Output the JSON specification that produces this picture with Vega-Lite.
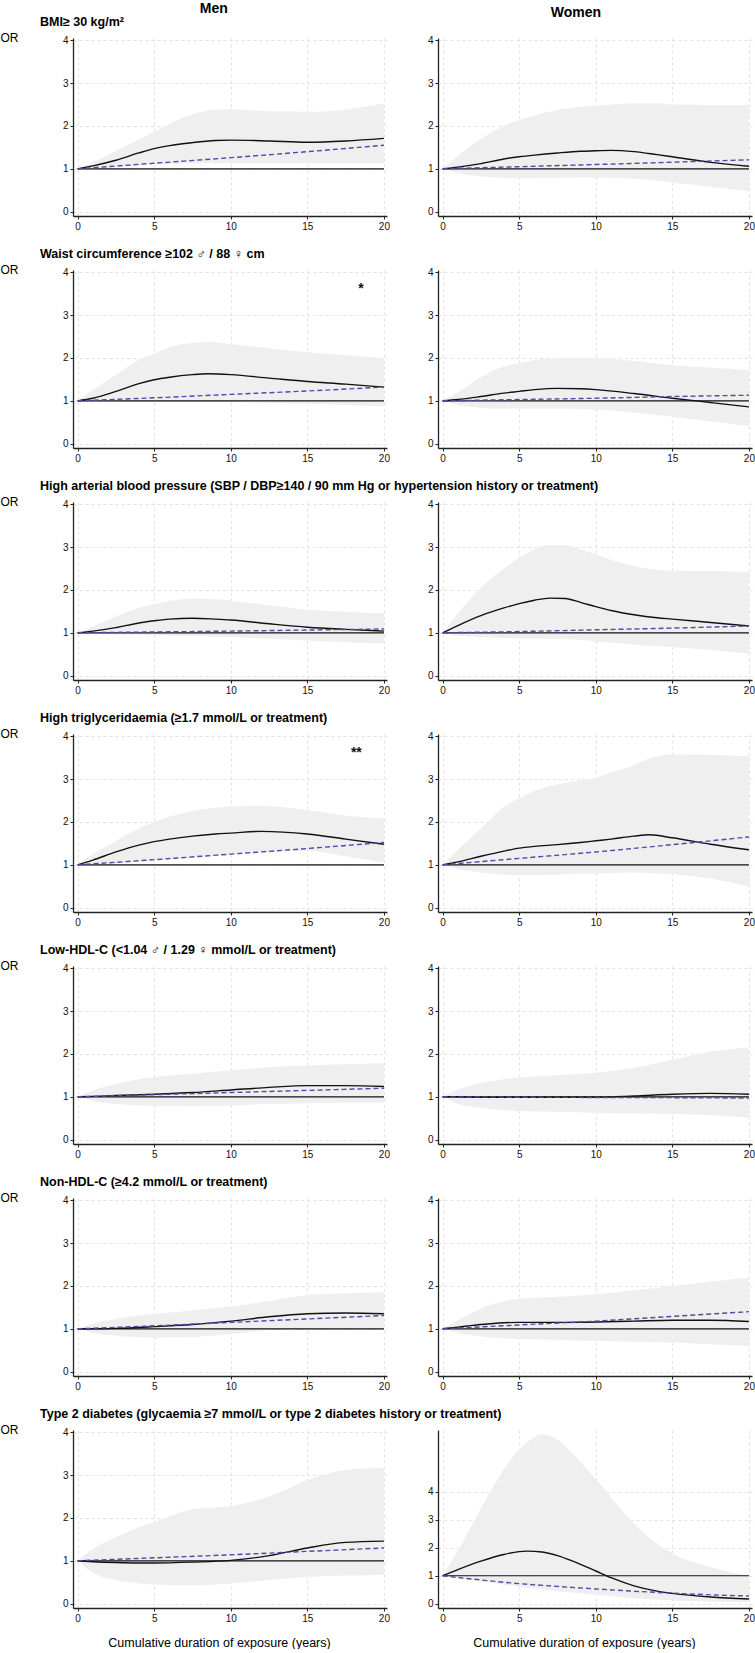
{
"$schema": "https://vega.github.io/schema/vega-lite/v6.json",
"padding": {"top": 1, "left": 0, "right": 0, "bottom": 0},
"background": "white",
"data": {"name": "curves"},
"datasets": {"curves": [
{"p":"bmi_m","x":0,"lo":1,"hi":1,"est":1,"lin":1},
{"p":"bmi_m","x":1,"lo":1.0,"hi":1.15,"est":1.07},
{"p":"bmi_m","x":2.5,"lo":1.03,"hi":1.42,"est":1.2},
{"p":"bmi_m","x":4,"lo":1.08,"hi":1.68,"est":1.37},
{"p":"bmi_m","x":5,"lo":1.11,"hi":1.86,"est":1.47,"lin":1.13},
{"p":"bmi_m","x":6,"lo":1.12,"hi":2.05,"est":1.54},
{"p":"bmi_m","x":7.5,"lo":1.13,"hi":2.28,"est":1.61},
{"p":"bmi_m","x":9,"lo":1.13,"hi":2.38,"est":1.66},
{"p":"bmi_m","x":10,"lo":1.13,"hi":2.39,"est":1.67,"lin":1.26},
{"p":"bmi_m","x":12.5,"lo":1.13,"hi":2.34,"est":1.65},
{"p":"bmi_m","x":15,"lo":1.13,"hi":2.33,"est":1.62,"lin":1.4},
{"p":"bmi_m","x":17.5,"lo":1.13,"hi":2.38,"est":1.65},
{"p":"bmi_m","x":20,"lo":1.13,"hi":2.52,"est":1.71,"lin":1.55},
{"p":"bmi_w","x":0,"lo":1,"hi":1,"est":1,"lin":1},
{"p":"bmi_w","x":1,"lo":0.9,"hi":1.3,"est":1.04},
{"p":"bmi_w","x":2.5,"lo":0.82,"hi":1.7,"est":1.12},
{"p":"bmi_w","x":4,"lo":0.79,"hi":2.0,"est":1.23},
{"p":"bmi_w","x":5,"lo":0.78,"hi":2.14,"est":1.28,"lin":1.05},
{"p":"bmi_w","x":6,"lo":0.78,"hi":2.24,"est":1.32},
{"p":"bmi_w","x":7.5,"lo":0.79,"hi":2.37,"est":1.37},
{"p":"bmi_w","x":9,"lo":0.8,"hi":2.44,"est":1.41},
{"p":"bmi_w","x":10,"lo":0.8,"hi":2.47,"est":1.42,"lin":1.1},
{"p":"bmi_w","x":11,"lo":0.79,"hi":2.5,"est":1.43},
{"p":"bmi_w","x":12.5,"lo":0.77,"hi":2.52,"est":1.4},
{"p":"bmi_w","x":14,"lo":0.72,"hi":2.52,"est":1.33},
{"p":"bmi_w","x":15,"lo":0.68,"hi":2.5,"est":1.28,"lin":1.155},
{"p":"bmi_w","x":17.5,"lo":0.58,"hi":2.49,"est":1.15},
{"p":"bmi_w","x":20,"lo":0.47,"hi":2.49,"est":1.06,"lin":1.21},
{"p":"waist_m","x":0,"lo":1,"hi":1,"est":1,"lin":1},
{"p":"waist_m","x":1,"lo":0.99,"hi":1.25,"est":1.06},
{"p":"waist_m","x":2.5,"lo":0.99,"hi":1.6,"est":1.22},
{"p":"waist_m","x":4,"lo":0.99,"hi":1.95,"est":1.4},
{"p":"waist_m","x":5,"lo":0.99,"hi":2.1,"est":1.49,"lin":1.07},
{"p":"waist_m","x":6,"lo":0.99,"hi":2.25,"est":1.55},
{"p":"waist_m","x":7.5,"lo":0.98,"hi":2.35,"est":1.61},
{"p":"waist_m","x":8.5,"lo":0.98,"hi":2.37,"est":1.63},
{"p":"waist_m","x":10,"lo":0.97,"hi":2.32,"est":1.61,"lin":1.15},
{"p":"waist_m","x":12.5,"lo":0.95,"hi":2.22,"est":1.53},
{"p":"waist_m","x":15,"lo":0.93,"hi":2.13,"est":1.45,"lin":1.23},
{"p":"waist_m","x":17.5,"lo":0.9,"hi":2.06,"est":1.39},
{"p":"waist_m","x":20,"lo":0.87,"hi":2.0,"est":1.32,"lin":1.32},
{"p":"waist_w","x":0,"lo":1,"hi":1,"est":1,"lin":1},
{"p":"waist_w","x":1,"lo":0.9,"hi":1.2,"est":1.03},
{"p":"waist_w","x":2.5,"lo":0.84,"hi":1.55,"est":1.1},
{"p":"waist_w","x":4,"lo":0.82,"hi":1.8,"est":1.18},
{"p":"waist_w","x":5,"lo":0.82,"hi":1.88,"est":1.22,"lin":1.03},
{"p":"waist_w","x":6,"lo":0.82,"hi":1.95,"est":1.26},
{"p":"waist_w","x":7.5,"lo":0.82,"hi":2.0,"est":1.29},
{"p":"waist_w","x":9,"lo":0.81,"hi":2.01,"est":1.28},
{"p":"waist_w","x":10,"lo":0.8,"hi":2.0,"est":1.26,"lin":1.06},
{"p":"waist_w","x":12.5,"lo":0.73,"hi":1.93,"est":1.17},
{"p":"waist_w","x":15,"lo":0.63,"hi":1.83,"est":1.06,"lin":1.1},
{"p":"waist_w","x":17.5,"lo":0.52,"hi":1.77,"est":0.96},
{"p":"waist_w","x":20,"lo":0.41,"hi":1.72,"est":0.86,"lin":1.13},
{"p":"bp_m","x":0,"lo":1,"hi":1,"est":1,"lin":1},
{"p":"bp_m","x":1,"lo":0.98,"hi":1.15,"est":1.04},
{"p":"bp_m","x":2.5,"lo":0.96,"hi":1.38,"est":1.12},
{"p":"bp_m","x":4,"lo":0.955,"hi":1.58,"est":1.23},
{"p":"bp_m","x":5,"lo":0.95,"hi":1.67,"est":1.28,"lin":1.02},
{"p":"bp_m","x":6,"lo":0.94,"hi":1.74,"est":1.32},
{"p":"bp_m","x":7.5,"lo":0.93,"hi":1.8,"est":1.34},
{"p":"bp_m","x":9,"lo":0.91,"hi":1.78,"est":1.32},
{"p":"bp_m","x":10,"lo":0.9,"hi":1.75,"est":1.3,"lin":1.04},
{"p":"bp_m","x":12.5,"lo":0.86,"hi":1.64,"est":1.21},
{"p":"bp_m","x":15,"lo":0.82,"hi":1.54,"est":1.13,"lin":1.065},
{"p":"bp_m","x":17.5,"lo":0.78,"hi":1.49,"est":1.08},
{"p":"bp_m","x":20,"lo":0.75,"hi":1.45,"est":1.04,"lin":1.09},
{"p":"bp_w","x":0,"lo":1,"hi":1,"est":1,"lin":1},
{"p":"bp_w","x":1,"lo":0.93,"hi":1.45,"est":1.17},
{"p":"bp_w","x":2.5,"lo":0.9,"hi":2.05,"est":1.4},
{"p":"bp_w","x":4,"lo":0.88,"hi":2.5,"est":1.58},
{"p":"bp_w","x":5,"lo":0.87,"hi":2.75,"est":1.68,"lin":1.03},
{"p":"bp_w","x":6,"lo":0.86,"hi":2.95,"est":1.76},
{"p":"bp_w","x":7,"lo":0.855,"hi":3.05,"est":1.81},
{"p":"bp_w","x":8,"lo":0.85,"hi":3.04,"est":1.8},
{"p":"bp_w","x":9,"lo":0.83,"hi":2.95,"est":1.71},
{"p":"bp_w","x":10,"lo":0.8,"hi":2.83,"est":1.61,"lin":1.07},
{"p":"bp_w","x":11,"lo":0.77,"hi":2.7,"est":1.52},
{"p":"bp_w","x":12.5,"lo":0.73,"hi":2.56,"est":1.42},
{"p":"bp_w","x":14,"lo":0.69,"hi":2.47,"est":1.35},
{"p":"bp_w","x":15,"lo":0.67,"hi":2.45,"est":1.32,"lin":1.11},
{"p":"bp_w","x":17.5,"lo":0.6,"hi":2.44,"est":1.24},
{"p":"bp_w","x":20,"lo":0.52,"hi":2.42,"est":1.16,"lin":1.16},
{"p":"tg_m","x":0,"lo":1,"hi":1,"est":1,"lin":1},
{"p":"tg_m","x":1,"lo":1.0,"hi":1.25,"est":1.11},
{"p":"tg_m","x":2.5,"lo":1.03,"hi":1.55,"est":1.3},
{"p":"tg_m","x":4,"lo":1.07,"hi":1.85,"est":1.46},
{"p":"tg_m","x":5,"lo":1.1,"hi":2.0,"est":1.54,"lin":1.12},
{"p":"tg_m","x":6,"lo":1.13,"hi":2.12,"est":1.6},
{"p":"tg_m","x":7.5,"lo":1.17,"hi":2.25,"est":1.67},
{"p":"tg_m","x":9,"lo":1.21,"hi":2.33,"est":1.72},
{"p":"tg_m","x":10,"lo":1.24,"hi":2.36,"est":1.74,"lin":1.25},
{"p":"tg_m","x":12,"lo":1.29,"hi":2.38,"est":1.78},
{"p":"tg_m","x":15,"lo":1.32,"hi":2.28,"est":1.72,"lin":1.38},
{"p":"tg_m","x":17.5,"lo":1.2,"hi":2.15,"est":1.6},
{"p":"tg_m","x":20,"lo":1.05,"hi":2.08,"est":1.48,"lin":1.52},
{"p":"tg_w","x":0,"lo":1,"hi":1,"est":1,"lin":1},
{"p":"tg_w","x":1,"lo":0.9,"hi":1.35,"est":1.07},
{"p":"tg_w","x":2.5,"lo":0.82,"hi":1.85,"est":1.2},
{"p":"tg_w","x":4,"lo":0.77,"hi":2.35,"est":1.32},
{"p":"tg_w","x":5,"lo":0.76,"hi":2.56,"est":1.39,"lin":1.15},
{"p":"tg_w","x":6,"lo":0.76,"hi":2.72,"est":1.43},
{"p":"tg_w","x":7.5,"lo":0.77,"hi":2.87,"est":1.47},
{"p":"tg_w","x":9,"lo":0.79,"hi":2.97,"est":1.52},
{"p":"tg_w","x":10,"lo":0.8,"hi":3.03,"est":1.56,"lin":1.3},
{"p":"tg_w","x":11,"lo":0.81,"hi":3.15,"est":1.6},
{"p":"tg_w","x":12.5,"lo":0.82,"hi":3.32,"est":1.67},
{"p":"tg_w","x":13.5,"lo":0.81,"hi":3.48,"est":1.7},
{"p":"tg_w","x":15,"lo":0.78,"hi":3.57,"est":1.63,"lin":1.47},
{"p":"tg_w","x":17.5,"lo":0.68,"hi":3.56,"est":1.48},
{"p":"tg_w","x":20,"lo":0.49,"hi":3.53,"est":1.35,"lin":1.65},
{"p":"hdl_m","x":0,"lo":1,"hi":1,"est":1,"lin":1},
{"p":"hdl_m","x":1,"lo":0.9,"hi":1.15,"est":1.01},
{"p":"hdl_m","x":2.5,"lo":0.83,"hi":1.3,"est":1.03},
{"p":"hdl_m","x":5,"lo":0.79,"hi":1.46,"est":1.06,"lin":1.05},
{"p":"hdl_m","x":7.5,"lo":0.78,"hi":1.54,"est":1.1},
{"p":"hdl_m","x":10,"lo":0.8,"hi":1.62,"est":1.16,"lin":1.1},
{"p":"hdl_m","x":12.5,"lo":0.83,"hi":1.69,"est":1.22},
{"p":"hdl_m","x":15,"lo":0.85,"hi":1.73,"est":1.26,"lin":1.15},
{"p":"hdl_m","x":17.5,"lo":0.86,"hi":1.76,"est":1.26},
{"p":"hdl_m","x":20,"lo":0.86,"hi":1.78,"est":1.24,"lin":1.2},
{"p":"hdl_w","x":0,"lo":1,"hi":1,"est":1,"lin":1},
{"p":"hdl_w","x":1,"lo":0.83,"hi":1.17,"est":1.0},
{"p":"hdl_w","x":2.5,"lo":0.74,"hi":1.32,"est":0.99},
{"p":"hdl_w","x":5,"lo":0.67,"hi":1.45,"est":0.99,"lin":0.99},
{"p":"hdl_w","x":7.5,"lo":0.65,"hi":1.5,"est":0.99},
{"p":"hdl_w","x":10,"lo":0.63,"hi":1.56,"est":0.99,"lin":0.985},
{"p":"hdl_w","x":12.5,"lo":0.61,"hi":1.68,"est":1.02},
{"p":"hdl_w","x":15,"lo":0.6,"hi":1.86,"est":1.06,"lin":0.98},
{"p":"hdl_w","x":17.5,"lo":0.57,"hi":2.05,"est":1.08},
{"p":"hdl_w","x":20,"lo":0.52,"hi":2.15,"est":1.06,"lin":0.97},
{"p":"nhdl_m","x":0,"lo":1,"hi":1,"est":1,"lin":1},
{"p":"nhdl_m","x":1,"lo":0.9,"hi":1.12,"est":1.0},
{"p":"nhdl_m","x":2.5,"lo":0.84,"hi":1.23,"est":1.01},
{"p":"nhdl_m","x":5,"lo":0.8,"hi":1.35,"est":1.05,"lin":1.07},
{"p":"nhdl_m","x":7.5,"lo":0.81,"hi":1.43,"est":1.1},
{"p":"nhdl_m","x":10,"lo":0.88,"hi":1.52,"est":1.18,"lin":1.15},
{"p":"nhdl_m","x":12.5,"lo":0.97,"hi":1.65,"est":1.28},
{"p":"nhdl_m","x":15,"lo":1.0,"hi":1.78,"est":1.35,"lin":1.23},
{"p":"nhdl_m","x":17.5,"lo":1.0,"hi":1.83,"est":1.37},
{"p":"nhdl_m","x":20,"lo":1.0,"hi":1.85,"est":1.35,"lin":1.31},
{"p":"nhdl_w","x":0,"lo":1,"hi":1,"est":1,"lin":1},
{"p":"nhdl_w","x":1,"lo":0.9,"hi":1.2,"est":1.04},
{"p":"nhdl_w","x":2.5,"lo":0.82,"hi":1.47,"est":1.1},
{"p":"nhdl_w","x":4,"lo":0.78,"hi":1.64,"est":1.14},
{"p":"nhdl_w","x":5,"lo":0.76,"hi":1.7,"est":1.15,"lin":1.09},
{"p":"nhdl_w","x":7.5,"lo":0.74,"hi":1.75,"est":1.15},
{"p":"nhdl_w","x":10,"lo":0.72,"hi":1.8,"est":1.16,"lin":1.18},
{"p":"nhdl_w","x":12.5,"lo":0.7,"hi":1.9,"est":1.18},
{"p":"nhdl_w","x":15,"lo":0.68,"hi":2.0,"est":1.2,"lin":1.29},
{"p":"nhdl_w","x":17.5,"lo":0.64,"hi":2.1,"est":1.2},
{"p":"nhdl_w","x":20,"lo":0.6,"hi":2.2,"est":1.17,"lin":1.4},
{"p":"dm_m","x":0,"lo":1,"hi":1,"est":1,"lin":1},
{"p":"dm_m","x":1,"lo":0.72,"hi":1.28,"est":0.98},
{"p":"dm_m","x":2.5,"lo":0.55,"hi":1.55,"est":0.96},
{"p":"dm_m","x":4,"lo":0.47,"hi":1.78,"est":0.95},
{"p":"dm_m","x":5,"lo":0.45,"hi":1.9,"est":0.95,"lin":1.07},
{"p":"dm_m","x":7.5,"lo":0.43,"hi":2.2,"est":0.97},
{"p":"dm_m","x":10,"lo":0.47,"hi":2.28,"est":1.01,"lin":1.14},
{"p":"dm_m","x":12.5,"lo":0.55,"hi":2.5,"est":1.12},
{"p":"dm_m","x":15,"lo":0.63,"hi":2.88,"est":1.3,"lin":1.22},
{"p":"dm_m","x":17.5,"lo":0.66,"hi":3.12,"est":1.43},
{"p":"dm_m","x":20,"lo":0.67,"hi":3.17,"est":1.46,"lin":1.3},
{"p":"dm_w","x":0,"lo":1,"hi":1,"est":1,"lin":1},
{"p":"dm_w","x":1,"lo":0.9,"hi":1.9,"est":1.22},
{"p":"dm_w","x":2.5,"lo":0.8,"hi":3.4,"est":1.52,"lin":0.85},
{"p":"dm_w","x":4,"lo":0.68,"hi":4.8,"est":1.76},
{"p":"dm_w","x":5,"lo":0.6,"hi":5.5,"est":1.86,"lin":0.72},
{"p":"dm_w","x":5.5,"lo":0.57,"hi":5.75,"est":1.88},
{"p":"dm_w","x":6.5,"lo":0.51,"hi":6.05,"est":1.85},
{"p":"dm_w","x":7.5,"lo":0.45,"hi":5.85,"est":1.72,"lin":0.62},
{"p":"dm_w","x":8.5,"lo":0.4,"hi":5.35,"est":1.52},
{"p":"dm_w","x":10,"lo":0.32,"hi":4.45,"est":1.17,"lin":0.53},
{"p":"dm_w","x":11,"lo":0.27,"hi":3.8,"est":0.93},
{"p":"dm_w","x":12.5,"lo":0.2,"hi":2.85,"est":0.64,"lin":0.45},
{"p":"dm_w","x":14,"lo":0.15,"hi":2.15,"est":0.45},
{"p":"dm_w","x":15,"lo":0.12,"hi":1.8,"est":0.37,"lin":0.38},
{"p":"dm_w","x":17.5,"lo":0.08,"hi":1.3,"est":0.24,"lin":0.32},
{"p":"dm_w","x":20,"lo":0.06,"hi":1.0,"est":0.17,"lin":0.28}
]},
"spacing": 16,
"vconcat": [
{"spacing": 37, "hconcat": [
 {"title": {"text": "Men", "fontSize": 14, "anchor": "middle", "frame": "bounds", "dx": 19, "offset": 0},
  "vconcat": [
  {"width":314,"height":178,
   "title": {"text": "BMI≥ 30 kg/m²", "anchor": "start", "frame": "group", "dx": -33, "offset": 3},
   "transform":[{"filter":"datum.p==='bmi_m'"}],
   "encoding":{"x":{"field":"x","type":"quantitative","scale":{"domain":[-0.3,20.2],"nice":false,"zero":false},"axis":{"values":[0,5,10,15,20],"title":null}}},
   "layer":[
    {"mark":{"type":"area","color":"#efefef","interpolate":"monotone"},"encoding":{"y":{"field":"hi","type":"quantitative","scale":{"domain":[-0.1,4.05],"nice":false,"zero":false},"axis":{"values":[0,1,2,3,4],"title":"OR","titleAngle":0,"titleAlign":"left","titleBaseline":"middle","titleX":-73,"titleY":-1,"titleFontSize":12}},"y2":{"field":"lo"}}},
    {"mark":{"type":"line","color":"#111","strokeWidth":1.2},"encoding":{"y":{"datum":1,"type":"quantitative","scale":{"domain":[-0.1,4.05],"nice":false,"zero":false},"axis":{"values":[0,1,2,3,4],"title":"OR","titleAngle":0,"titleAlign":"left","titleBaseline":"middle","titleX":-73,"titleY":-1,"titleFontSize":12}}}},
    {"mark":{"type":"line","color":"#111","strokeWidth":1.4,"interpolate":"monotone"},"encoding":{"y":{"field":"est","type":"quantitative","scale":{"domain":[-0.1,4.05],"nice":false,"zero":false},"axis":{"values":[0,1,2,3,4],"title":"OR","titleAngle":0,"titleAlign":"left","titleBaseline":"middle","titleX":-73,"titleY":-1,"titleFontSize":12}}}},
    {"transform":[{"filter":"isValid(datum.lin)"}],"mark":{"type":"line","color":"#5a45a8","strokeWidth":1.4,"strokeDash":[5,3],"interpolate":"monotone"},"encoding":{"y":{"field":"lin","type":"quantitative","scale":{"domain":[-0.1,4.05],"nice":false,"zero":false},"axis":{"values":[0,1,2,3,4],"title":"OR","titleAngle":0,"titleAlign":"left","titleBaseline":"middle","titleX":-73,"titleY":-1,"titleFontSize":12}}}}
   ]}
 ]},
 {"title": {"text": "Women", "fontSize": 14, "anchor": "middle", "frame": "bounds", "dx": -15, "offset": 0},
  "vconcat": [
  {"width":314,"height":178,
   "title": {"text": " ", "anchor": "start", "frame": "group", "offset": 3},
   "transform":[{"filter":"datum.p==='bmi_w'"}],
   "encoding":{"x":{"field":"x","type":"quantitative","scale":{"domain":[-0.3,20.2],"nice":false,"zero":false},"axis":{"values":[0,5,10,15,20],"title":null}}},
   "layer":[
    {"mark":{"type":"area","color":"#efefef","interpolate":"monotone"},"encoding":{"y":{"field":"hi","type":"quantitative","scale":{"domain":[-0.1,4.05],"nice":false,"zero":false},"axis":{"values":[0,1,2,3,4],"title":null}},"y2":{"field":"lo"}}},
    {"mark":{"type":"line","color":"#111","strokeWidth":1.2},"encoding":{"y":{"datum":1,"type":"quantitative","scale":{"domain":[-0.1,4.05],"nice":false,"zero":false},"axis":{"values":[0,1,2,3,4],"title":null}}}},
    {"mark":{"type":"line","color":"#111","strokeWidth":1.4,"interpolate":"monotone"},"encoding":{"y":{"field":"est","type":"quantitative","scale":{"domain":[-0.1,4.05],"nice":false,"zero":false},"axis":{"values":[0,1,2,3,4],"title":null}}}},
    {"transform":[{"filter":"isValid(datum.lin)"}],"mark":{"type":"line","color":"#5a45a8","strokeWidth":1.4,"strokeDash":[5,3],"interpolate":"monotone"},"encoding":{"y":{"field":"lin","type":"quantitative","scale":{"domain":[-0.1,4.05],"nice":false,"zero":false},"axis":{"values":[0,1,2,3,4],"title":null}}}}
   ]}
 ]}
]},
{"spacing": 37,
 "title": {"text": "Waist circumference ≥102 ♂ / 88 ♀ cm", "anchor": "start", "frame": "bounds", "dx": 40, "offset": 3},
 "hconcat": [
  {"width":314,"height":178,
   "transform":[{"filter":"datum.p==='waist_m'"}],
   "encoding":{"x":{"field":"x","type":"quantitative","scale":{"domain":[-0.3,20.2],"nice":false,"zero":false},"axis":{"values":[0,5,10,15,20],"title":null}}},
   "layer":[
    {"mark":{"type":"area","color":"#efefef","interpolate":"monotone"},"encoding":{"y":{"field":"hi","type":"quantitative","scale":{"domain":[-0.1,4.05],"nice":false,"zero":false},"axis":{"values":[0,1,2,3,4],"title":"OR","titleAngle":0,"titleAlign":"left","titleBaseline":"middle","titleX":-73,"titleY":-1,"titleFontSize":12}},"y2":{"field":"lo"}}},
    {"mark":{"type":"line","color":"#111","strokeWidth":1.2},"encoding":{"y":{"datum":1,"type":"quantitative","scale":{"domain":[-0.1,4.05],"nice":false,"zero":false},"axis":{"values":[0,1,2,3,4],"title":"OR","titleAngle":0,"titleAlign":"left","titleBaseline":"middle","titleX":-73,"titleY":-1,"titleFontSize":12}}}},
    {"mark":{"type":"line","color":"#111","strokeWidth":1.4,"interpolate":"monotone"},"encoding":{"y":{"field":"est","type":"quantitative","scale":{"domain":[-0.1,4.05],"nice":false,"zero":false},"axis":{"values":[0,1,2,3,4],"title":"OR","titleAngle":0,"titleAlign":"left","titleBaseline":"middle","titleX":-73,"titleY":-1,"titleFontSize":12}}}},
    {"transform":[{"filter":"isValid(datum.lin)"}],"mark":{"type":"line","color":"#5a45a8","strokeWidth":1.4,"strokeDash":[5,3],"interpolate":"monotone"},"encoding":{"y":{"field":"lin","type":"quantitative","scale":{"domain":[-0.1,4.05],"nice":false,"zero":false},"axis":{"values":[0,1,2,3,4],"title":"OR","titleAngle":0,"titleAlign":"left","titleBaseline":"middle","titleX":-73,"titleY":-1,"titleFontSize":12}}}},
    {"data":{"values":[{"x":18.5,"y":3.6,"t":"*"}]},"mark":{"type":"text","fontSize":14,"fontWeight":"bold","color":"#111"},"encoding":{"y":{"field":"y","type":"quantitative","scale":{"domain":[-0.1,4.05],"nice":false,"zero":false},"axis":{"values":[0,1,2,3,4],"title":"OR","titleAngle":0,"titleAlign":"left","titleBaseline":"middle","titleX":-73,"titleY":-1,"titleFontSize":12}},"text":{"field":"t"}}}
   ]},
  {"width":314,"height":178,
   "transform":[{"filter":"datum.p==='waist_w'"}],
   "encoding":{"x":{"field":"x","type":"quantitative","scale":{"domain":[-0.3,20.2],"nice":false,"zero":false},"axis":{"values":[0,5,10,15,20],"title":null}}},
   "layer":[
    {"mark":{"type":"area","color":"#efefef","interpolate":"monotone"},"encoding":{"y":{"field":"hi","type":"quantitative","scale":{"domain":[-0.1,4.05],"nice":false,"zero":false},"axis":{"values":[0,1,2,3,4],"title":null}},"y2":{"field":"lo"}}},
    {"mark":{"type":"line","color":"#111","strokeWidth":1.2},"encoding":{"y":{"datum":1,"type":"quantitative","scale":{"domain":[-0.1,4.05],"nice":false,"zero":false},"axis":{"values":[0,1,2,3,4],"title":null}}}},
    {"mark":{"type":"line","color":"#111","strokeWidth":1.4,"interpolate":"monotone"},"encoding":{"y":{"field":"est","type":"quantitative","scale":{"domain":[-0.1,4.05],"nice":false,"zero":false},"axis":{"values":[0,1,2,3,4],"title":null}}}},
    {"transform":[{"filter":"isValid(datum.lin)"}],"mark":{"type":"line","color":"#5a45a8","strokeWidth":1.4,"strokeDash":[5,3],"interpolate":"monotone"},"encoding":{"y":{"field":"lin","type":"quantitative","scale":{"domain":[-0.1,4.05],"nice":false,"zero":false},"axis":{"values":[0,1,2,3,4],"title":null}}}}
   ]}
 ]},
{"spacing": 37,
 "title": {"text": "High arterial blood pressure (SBP / DBP≥140 / 90 mm Hg or hypertension history or treatment)", "anchor": "start", "frame": "bounds", "dx": 40, "offset": 3},
 "hconcat": [
  {"width":314,"height":178,
   "transform":[{"filter":"datum.p==='bp_m'"}],
   "encoding":{"x":{"field":"x","type":"quantitative","scale":{"domain":[-0.3,20.2],"nice":false,"zero":false},"axis":{"values":[0,5,10,15,20],"title":null}}},
   "layer":[
    {"mark":{"type":"area","color":"#efefef","interpolate":"monotone"},"encoding":{"y":{"field":"hi","type":"quantitative","scale":{"domain":[-0.1,4.05],"nice":false,"zero":false},"axis":{"values":[0,1,2,3,4],"title":"OR","titleAngle":0,"titleAlign":"left","titleBaseline":"middle","titleX":-73,"titleY":-1,"titleFontSize":12}},"y2":{"field":"lo"}}},
    {"mark":{"type":"line","color":"#111","strokeWidth":1.2},"encoding":{"y":{"datum":1,"type":"quantitative","scale":{"domain":[-0.1,4.05],"nice":false,"zero":false},"axis":{"values":[0,1,2,3,4],"title":"OR","titleAngle":0,"titleAlign":"left","titleBaseline":"middle","titleX":-73,"titleY":-1,"titleFontSize":12}}}},
    {"mark":{"type":"line","color":"#111","strokeWidth":1.4,"interpolate":"monotone"},"encoding":{"y":{"field":"est","type":"quantitative","scale":{"domain":[-0.1,4.05],"nice":false,"zero":false},"axis":{"values":[0,1,2,3,4],"title":"OR","titleAngle":0,"titleAlign":"left","titleBaseline":"middle","titleX":-73,"titleY":-1,"titleFontSize":12}}}},
    {"transform":[{"filter":"isValid(datum.lin)"}],"mark":{"type":"line","color":"#5a45a8","strokeWidth":1.4,"strokeDash":[5,3],"interpolate":"monotone"},"encoding":{"y":{"field":"lin","type":"quantitative","scale":{"domain":[-0.1,4.05],"nice":false,"zero":false},"axis":{"values":[0,1,2,3,4],"title":"OR","titleAngle":0,"titleAlign":"left","titleBaseline":"middle","titleX":-73,"titleY":-1,"titleFontSize":12}}}}
   ]},
  {"width":314,"height":178,
   "transform":[{"filter":"datum.p==='bp_w'"}],
   "encoding":{"x":{"field":"x","type":"quantitative","scale":{"domain":[-0.3,20.2],"nice":false,"zero":false},"axis":{"values":[0,5,10,15,20],"title":null}}},
   "layer":[
    {"mark":{"type":"area","color":"#efefef","interpolate":"monotone"},"encoding":{"y":{"field":"hi","type":"quantitative","scale":{"domain":[-0.1,4.05],"nice":false,"zero":false},"axis":{"values":[0,1,2,3,4],"title":null}},"y2":{"field":"lo"}}},
    {"mark":{"type":"line","color":"#111","strokeWidth":1.2},"encoding":{"y":{"datum":1,"type":"quantitative","scale":{"domain":[-0.1,4.05],"nice":false,"zero":false},"axis":{"values":[0,1,2,3,4],"title":null}}}},
    {"mark":{"type":"line","color":"#111","strokeWidth":1.4,"interpolate":"monotone"},"encoding":{"y":{"field":"est","type":"quantitative","scale":{"domain":[-0.1,4.05],"nice":false,"zero":false},"axis":{"values":[0,1,2,3,4],"title":null}}}},
    {"transform":[{"filter":"isValid(datum.lin)"}],"mark":{"type":"line","color":"#5a45a8","strokeWidth":1.4,"strokeDash":[5,3],"interpolate":"monotone"},"encoding":{"y":{"field":"lin","type":"quantitative","scale":{"domain":[-0.1,4.05],"nice":false,"zero":false},"axis":{"values":[0,1,2,3,4],"title":null}}}}
   ]}
 ]},
{"spacing": 37,
 "title": {"text": "High triglyceridaemia (≥1.7 mmol/L or treatment)", "anchor": "start", "frame": "bounds", "dx": 40, "offset": 3},
 "hconcat": [
  {"width":314,"height":178,
   "transform":[{"filter":"datum.p==='tg_m'"}],
   "encoding":{"x":{"field":"x","type":"quantitative","scale":{"domain":[-0.3,20.2],"nice":false,"zero":false},"axis":{"values":[0,5,10,15,20],"title":null}}},
   "layer":[
    {"mark":{"type":"area","color":"#efefef","interpolate":"monotone"},"encoding":{"y":{"field":"hi","type":"quantitative","scale":{"domain":[-0.1,4.05],"nice":false,"zero":false},"axis":{"values":[0,1,2,3,4],"title":"OR","titleAngle":0,"titleAlign":"left","titleBaseline":"middle","titleX":-73,"titleY":-1,"titleFontSize":12}},"y2":{"field":"lo"}}},
    {"mark":{"type":"line","color":"#111","strokeWidth":1.2},"encoding":{"y":{"datum":1,"type":"quantitative","scale":{"domain":[-0.1,4.05],"nice":false,"zero":false},"axis":{"values":[0,1,2,3,4],"title":"OR","titleAngle":0,"titleAlign":"left","titleBaseline":"middle","titleX":-73,"titleY":-1,"titleFontSize":12}}}},
    {"mark":{"type":"line","color":"#111","strokeWidth":1.4,"interpolate":"monotone"},"encoding":{"y":{"field":"est","type":"quantitative","scale":{"domain":[-0.1,4.05],"nice":false,"zero":false},"axis":{"values":[0,1,2,3,4],"title":"OR","titleAngle":0,"titleAlign":"left","titleBaseline":"middle","titleX":-73,"titleY":-1,"titleFontSize":12}}}},
    {"transform":[{"filter":"isValid(datum.lin)"}],"mark":{"type":"line","color":"#5a45a8","strokeWidth":1.4,"strokeDash":[5,3],"interpolate":"monotone"},"encoding":{"y":{"field":"lin","type":"quantitative","scale":{"domain":[-0.1,4.05],"nice":false,"zero":false},"axis":{"values":[0,1,2,3,4],"title":"OR","titleAngle":0,"titleAlign":"left","titleBaseline":"middle","titleX":-73,"titleY":-1,"titleFontSize":12}}}},
    {"data":{"values":[{"x":18.2,"y":3.6,"t":"**"}]},"mark":{"type":"text","fontSize":14,"fontWeight":"bold","color":"#111"},"encoding":{"y":{"field":"y","type":"quantitative","scale":{"domain":[-0.1,4.05],"nice":false,"zero":false},"axis":{"values":[0,1,2,3,4],"title":"OR","titleAngle":0,"titleAlign":"left","titleBaseline":"middle","titleX":-73,"titleY":-1,"titleFontSize":12}},"text":{"field":"t"}}}
   ]},
  {"width":314,"height":178,
   "transform":[{"filter":"datum.p==='tg_w'"}],
   "encoding":{"x":{"field":"x","type":"quantitative","scale":{"domain":[-0.3,20.2],"nice":false,"zero":false},"axis":{"values":[0,5,10,15,20],"title":null}}},
   "layer":[
    {"mark":{"type":"area","color":"#efefef","interpolate":"monotone"},"encoding":{"y":{"field":"hi","type":"quantitative","scale":{"domain":[-0.1,4.05],"nice":false,"zero":false},"axis":{"values":[0,1,2,3,4],"title":null}},"y2":{"field":"lo"}}},
    {"mark":{"type":"line","color":"#111","strokeWidth":1.2},"encoding":{"y":{"datum":1,"type":"quantitative","scale":{"domain":[-0.1,4.05],"nice":false,"zero":false},"axis":{"values":[0,1,2,3,4],"title":null}}}},
    {"mark":{"type":"line","color":"#111","strokeWidth":1.4,"interpolate":"monotone"},"encoding":{"y":{"field":"est","type":"quantitative","scale":{"domain":[-0.1,4.05],"nice":false,"zero":false},"axis":{"values":[0,1,2,3,4],"title":null}}}},
    {"transform":[{"filter":"isValid(datum.lin)"}],"mark":{"type":"line","color":"#5a45a8","strokeWidth":1.4,"strokeDash":[5,3],"interpolate":"monotone"},"encoding":{"y":{"field":"lin","type":"quantitative","scale":{"domain":[-0.1,4.05],"nice":false,"zero":false},"axis":{"values":[0,1,2,3,4],"title":null}}}}
   ]}
 ]},
{"spacing": 37,
 "title": {"text": "Low-HDL-C (<1.04 ♂ / 1.29 ♀ mmol/L or treatment)", "anchor": "start", "frame": "bounds", "dx": 40, "offset": 3},
 "hconcat": [
  {"width":314,"height":178,
   "transform":[{"filter":"datum.p==='hdl_m'"}],
   "encoding":{"x":{"field":"x","type":"quantitative","scale":{"domain":[-0.3,20.2],"nice":false,"zero":false},"axis":{"values":[0,5,10,15,20],"title":null}}},
   "layer":[
    {"mark":{"type":"area","color":"#efefef","interpolate":"monotone"},"encoding":{"y":{"field":"hi","type":"quantitative","scale":{"domain":[-0.1,4.05],"nice":false,"zero":false},"axis":{"values":[0,1,2,3,4],"title":"OR","titleAngle":0,"titleAlign":"left","titleBaseline":"middle","titleX":-73,"titleY":-1,"titleFontSize":12}},"y2":{"field":"lo"}}},
    {"mark":{"type":"line","color":"#111","strokeWidth":1.2},"encoding":{"y":{"datum":1,"type":"quantitative","scale":{"domain":[-0.1,4.05],"nice":false,"zero":false},"axis":{"values":[0,1,2,3,4],"title":"OR","titleAngle":0,"titleAlign":"left","titleBaseline":"middle","titleX":-73,"titleY":-1,"titleFontSize":12}}}},
    {"mark":{"type":"line","color":"#111","strokeWidth":1.4,"interpolate":"monotone"},"encoding":{"y":{"field":"est","type":"quantitative","scale":{"domain":[-0.1,4.05],"nice":false,"zero":false},"axis":{"values":[0,1,2,3,4],"title":"OR","titleAngle":0,"titleAlign":"left","titleBaseline":"middle","titleX":-73,"titleY":-1,"titleFontSize":12}}}},
    {"transform":[{"filter":"isValid(datum.lin)"}],"mark":{"type":"line","color":"#5a45a8","strokeWidth":1.4,"strokeDash":[5,3],"interpolate":"monotone"},"encoding":{"y":{"field":"lin","type":"quantitative","scale":{"domain":[-0.1,4.05],"nice":false,"zero":false},"axis":{"values":[0,1,2,3,4],"title":"OR","titleAngle":0,"titleAlign":"left","titleBaseline":"middle","titleX":-73,"titleY":-1,"titleFontSize":12}}}}
   ]},
  {"width":314,"height":178,
   "transform":[{"filter":"datum.p==='hdl_w'"}],
   "encoding":{"x":{"field":"x","type":"quantitative","scale":{"domain":[-0.3,20.2],"nice":false,"zero":false},"axis":{"values":[0,5,10,15,20],"title":null}}},
   "layer":[
    {"mark":{"type":"area","color":"#efefef","interpolate":"monotone"},"encoding":{"y":{"field":"hi","type":"quantitative","scale":{"domain":[-0.1,4.05],"nice":false,"zero":false},"axis":{"values":[0,1,2,3,4],"title":null}},"y2":{"field":"lo"}}},
    {"mark":{"type":"line","color":"#111","strokeWidth":1.2},"encoding":{"y":{"datum":1,"type":"quantitative","scale":{"domain":[-0.1,4.05],"nice":false,"zero":false},"axis":{"values":[0,1,2,3,4],"title":null}}}},
    {"mark":{"type":"line","color":"#111","strokeWidth":1.4,"interpolate":"monotone"},"encoding":{"y":{"field":"est","type":"quantitative","scale":{"domain":[-0.1,4.05],"nice":false,"zero":false},"axis":{"values":[0,1,2,3,4],"title":null}}}},
    {"transform":[{"filter":"isValid(datum.lin)"}],"mark":{"type":"line","color":"#5a45a8","strokeWidth":1.4,"strokeDash":[5,3],"interpolate":"monotone"},"encoding":{"y":{"field":"lin","type":"quantitative","scale":{"domain":[-0.1,4.05],"nice":false,"zero":false},"axis":{"values":[0,1,2,3,4],"title":null}}}}
   ]}
 ]},
{"spacing": 37,
 "title": {"text": "Non-HDL-C (≥4.2 mmol/L or treatment)", "anchor": "start", "frame": "bounds", "dx": 40, "offset": 3},
 "hconcat": [
  {"width":314,"height":178,
   "transform":[{"filter":"datum.p==='nhdl_m'"}],
   "encoding":{"x":{"field":"x","type":"quantitative","scale":{"domain":[-0.3,20.2],"nice":false,"zero":false},"axis":{"values":[0,5,10,15,20],"title":null}}},
   "layer":[
    {"mark":{"type":"area","color":"#efefef","interpolate":"monotone"},"encoding":{"y":{"field":"hi","type":"quantitative","scale":{"domain":[-0.1,4.05],"nice":false,"zero":false},"axis":{"values":[0,1,2,3,4],"title":"OR","titleAngle":0,"titleAlign":"left","titleBaseline":"middle","titleX":-73,"titleY":-1,"titleFontSize":12}},"y2":{"field":"lo"}}},
    {"mark":{"type":"line","color":"#111","strokeWidth":1.2},"encoding":{"y":{"datum":1,"type":"quantitative","scale":{"domain":[-0.1,4.05],"nice":false,"zero":false},"axis":{"values":[0,1,2,3,4],"title":"OR","titleAngle":0,"titleAlign":"left","titleBaseline":"middle","titleX":-73,"titleY":-1,"titleFontSize":12}}}},
    {"mark":{"type":"line","color":"#111","strokeWidth":1.4,"interpolate":"monotone"},"encoding":{"y":{"field":"est","type":"quantitative","scale":{"domain":[-0.1,4.05],"nice":false,"zero":false},"axis":{"values":[0,1,2,3,4],"title":"OR","titleAngle":0,"titleAlign":"left","titleBaseline":"middle","titleX":-73,"titleY":-1,"titleFontSize":12}}}},
    {"transform":[{"filter":"isValid(datum.lin)"}],"mark":{"type":"line","color":"#5a45a8","strokeWidth":1.4,"strokeDash":[5,3],"interpolate":"monotone"},"encoding":{"y":{"field":"lin","type":"quantitative","scale":{"domain":[-0.1,4.05],"nice":false,"zero":false},"axis":{"values":[0,1,2,3,4],"title":"OR","titleAngle":0,"titleAlign":"left","titleBaseline":"middle","titleX":-73,"titleY":-1,"titleFontSize":12}}}}
   ]},
  {"width":314,"height":178,
   "transform":[{"filter":"datum.p==='nhdl_w'"}],
   "encoding":{"x":{"field":"x","type":"quantitative","scale":{"domain":[-0.3,20.2],"nice":false,"zero":false},"axis":{"values":[0,5,10,15,20],"title":null}}},
   "layer":[
    {"mark":{"type":"area","color":"#efefef","interpolate":"monotone"},"encoding":{"y":{"field":"hi","type":"quantitative","scale":{"domain":[-0.1,4.05],"nice":false,"zero":false},"axis":{"values":[0,1,2,3,4],"title":null}},"y2":{"field":"lo"}}},
    {"mark":{"type":"line","color":"#111","strokeWidth":1.2},"encoding":{"y":{"datum":1,"type":"quantitative","scale":{"domain":[-0.1,4.05],"nice":false,"zero":false},"axis":{"values":[0,1,2,3,4],"title":null}}}},
    {"mark":{"type":"line","color":"#111","strokeWidth":1.4,"interpolate":"monotone"},"encoding":{"y":{"field":"est","type":"quantitative","scale":{"domain":[-0.1,4.05],"nice":false,"zero":false},"axis":{"values":[0,1,2,3,4],"title":null}}}},
    {"transform":[{"filter":"isValid(datum.lin)"}],"mark":{"type":"line","color":"#5a45a8","strokeWidth":1.4,"strokeDash":[5,3],"interpolate":"monotone"},"encoding":{"y":{"field":"lin","type":"quantitative","scale":{"domain":[-0.1,4.05],"nice":false,"zero":false},"axis":{"values":[0,1,2,3,4],"title":null}}}}
   ]}
 ]},
{"spacing": 37,
 "title": {"text": "Type 2 diabetes (glycaemia ≥7 mmol/L or type 2 diabetes history or treatment)", "anchor": "start", "frame": "bounds", "dx": 40, "offset": 3},
 "hconcat": [
  {"width":314,"height":178,
   "transform":[{"filter":"datum.p==='dm_m'"}],
   "encoding":{"x":{"field":"x","type":"quantitative","scale":{"domain":[-0.3,20.2],"nice":false,"zero":false},"axis":{"values":[0,5,10,15,20],"title":"Cumulative duration of exposure (years)","titleFontSize":12.5,"titlePadding":13,"titleX":146}}},
   "layer":[
    {"mark":{"type":"area","color":"#efefef","interpolate":"monotone"},"encoding":{"y":{"field":"hi","type":"quantitative","scale":{"domain":[-0.1,4.05],"nice":false,"zero":false},"axis":{"values":[0,1,2,3,4],"title":"OR","titleAngle":0,"titleAlign":"left","titleBaseline":"middle","titleX":-73,"titleY":-1,"titleFontSize":12}},"y2":{"field":"lo"}}},
    {"mark":{"type":"line","color":"#111","strokeWidth":1.2},"encoding":{"y":{"datum":1,"type":"quantitative","scale":{"domain":[-0.1,4.05],"nice":false,"zero":false},"axis":{"values":[0,1,2,3,4],"title":"OR","titleAngle":0,"titleAlign":"left","titleBaseline":"middle","titleX":-73,"titleY":-1,"titleFontSize":12}}}},
    {"mark":{"type":"line","color":"#111","strokeWidth":1.4,"interpolate":"monotone"},"encoding":{"y":{"field":"est","type":"quantitative","scale":{"domain":[-0.1,4.05],"nice":false,"zero":false},"axis":{"values":[0,1,2,3,4],"title":"OR","titleAngle":0,"titleAlign":"left","titleBaseline":"middle","titleX":-73,"titleY":-1,"titleFontSize":12}}}},
    {"transform":[{"filter":"isValid(datum.lin)"}],"mark":{"type":"line","color":"#5a45a8","strokeWidth":1.4,"strokeDash":[5,3],"interpolate":"monotone"},"encoding":{"y":{"field":"lin","type":"quantitative","scale":{"domain":[-0.1,4.05],"nice":false,"zero":false},"axis":{"values":[0,1,2,3,4],"title":"OR","titleAngle":0,"titleAlign":"left","titleBaseline":"middle","titleX":-73,"titleY":-1,"titleFontSize":12}}}}
   ]},
  {"width":314,"height":178,
   "transform":[{"filter":"datum.p==='dm_w'"}],
   "encoding":{"x":{"field":"x","type":"quantitative","scale":{"domain":[-0.3,20.2],"nice":false,"zero":false},"axis":{"values":[0,5,10,15,20],"title":"Cumulative duration of exposure (years)","titleFontSize":12.5,"titlePadding":13,"titleX":146}}},
   "layer":[
    {"mark":{"type":"area","color":"#efefef","interpolate":"monotone"},"encoding":{"y":{"field":"hi","type":"quantitative","scale":{"domain":[-0.15,6.2],"nice":false,"zero":false},"axis":{"values":[0,1,2,3,4],"title":null}},"y2":{"field":"lo"}}},
    {"mark":{"type":"line","color":"#111","strokeWidth":1.2},"encoding":{"y":{"datum":1,"type":"quantitative","scale":{"domain":[-0.15,6.2],"nice":false,"zero":false},"axis":{"values":[0,1,2,3,4],"title":null}}}},
    {"mark":{"type":"line","color":"#111","strokeWidth":1.4,"interpolate":"monotone"},"encoding":{"y":{"field":"est","type":"quantitative","scale":{"domain":[-0.15,6.2],"nice":false,"zero":false},"axis":{"values":[0,1,2,3,4],"title":null}}}},
    {"transform":[{"filter":"isValid(datum.lin)"}],"mark":{"type":"line","color":"#5a45a8","strokeWidth":1.4,"strokeDash":[5,3],"interpolate":"monotone"},"encoding":{"y":{"field":"lin","type":"quantitative","scale":{"domain":[-0.15,6.2],"nice":false,"zero":false},"axis":{"values":[0,1,2,3,4],"title":null}}}}
   ]}
 ]}
],
"config": {
 "font": "Liberation Sans, DejaVu Sans, sans-serif",
 "view": {"stroke": null},
 "axis": {"domainColor": "#222", "domainWidth": 1.3, "tickColor": "#222", "tickSize": 3, "tickWidth": 1, "labelFontSize": 10, "labelColor": "#111", "labelPadding": 2, "labelFlush": false, "gridColor": "#e2e2e2", "gridDash": [3, 3], "gridWidth": 1, "titleColor": "#000", "titleFontWeight": "normal", "labelFont": "Liberation Sans", "titleFont": "Liberation Sans"},
 "title": {"fontSize": 12.5, "fontWeight": "bold", "color": "#000", "font": "Liberation Sans, DejaVu Sans, sans-serif"}
}
}
